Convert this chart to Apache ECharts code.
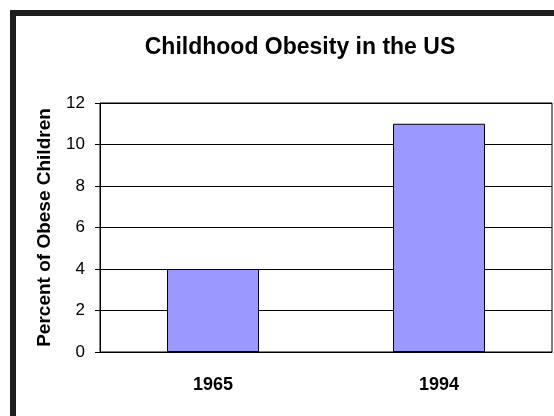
<!DOCTYPE html>
<html>
<head>
<meta charset="utf-8">
<script src="https://cdn.jsdelivr.net/npm/echarts@6/dist/echarts.min.js"></script>
<style>
html,body{margin:0;padding:0;background:#fff;}
#c{width:554px;height:416px;}
</style>
</head>
<body>
<div id="c"></div>
<script>
const categories = ['1965', '1994'];
const obesityPercent = [4, 11];
const yTicks = [0, 2, 4, 6, 8, 10, 12];

const chart = echarts.init(document.getElementById('c'), null, {renderer: 'canvas'});
const font = '"Liberation Sans", Arial, sans-serif';
chart.setOption({
  animation: false,
  backgroundColor: '#fff',
  title: {
    text: 'Childhood Obesity in the US',
    left: 295, top: 31, textAlign: 'center',
    textStyle: {fontFamily: font, fontWeight: 'bold', fontSize: 23, color: '#000'}
  },
  graphic: [
    {type: 'rect', shape: {x: 10, y: 10, width: 544, height: 6}, style: {fill: '#1e1e1e'}},
    {type: 'rect', shape: {x: 10, y: 10, width: 6, height: 406}, style: {fill: '#1e1e1e'}}
  ],
  grid: {left: 100, top: 103, right: 2, bottom: 64, show: true, borderColor: '#000', borderWidth: 1, backgroundColor: '#fff'},
  xAxis: {
    type: 'category',
    data: categories,
    axisLine: {lineStyle: {color: '#000', width: 1}},
    axisTick: {show: false},
    axisLabel: {fontFamily: font, fontWeight: 'bold', fontSize: 18, color: '#000', margin: 24}
  },
  yAxis: {
    type: 'value',
    min: 0, max: 12, interval: 2,
    name: 'Percent of Obese Children',
    nameLocation: 'middle',
    nameGap: 46,
    nameTextStyle: {fontFamily: font, fontWeight: 'bold', fontSize: 19, color: '#000'},
    axisLine: {show: true, lineStyle: {color: '#000', width: 1}},
    axisTick: {show: true, length: 5, lineStyle: {color: '#000'}},
    axisLabel: {fontFamily: font, fontSize: 17, color: '#000', margin: 15,
      formatter: v => yTicks.includes(v) ? String(v) : ''},
    splitLine: {show: true, lineStyle: {color: '#000', width: 1}}
  },
  series: [{
    type: 'bar',
    data: obesityPercent,
    barWidth: '40.7%',
    itemStyle: {color: '#9999FF', borderColor: '#000', borderWidth: 1}
  }]
});
</script>
</body>
</html>
